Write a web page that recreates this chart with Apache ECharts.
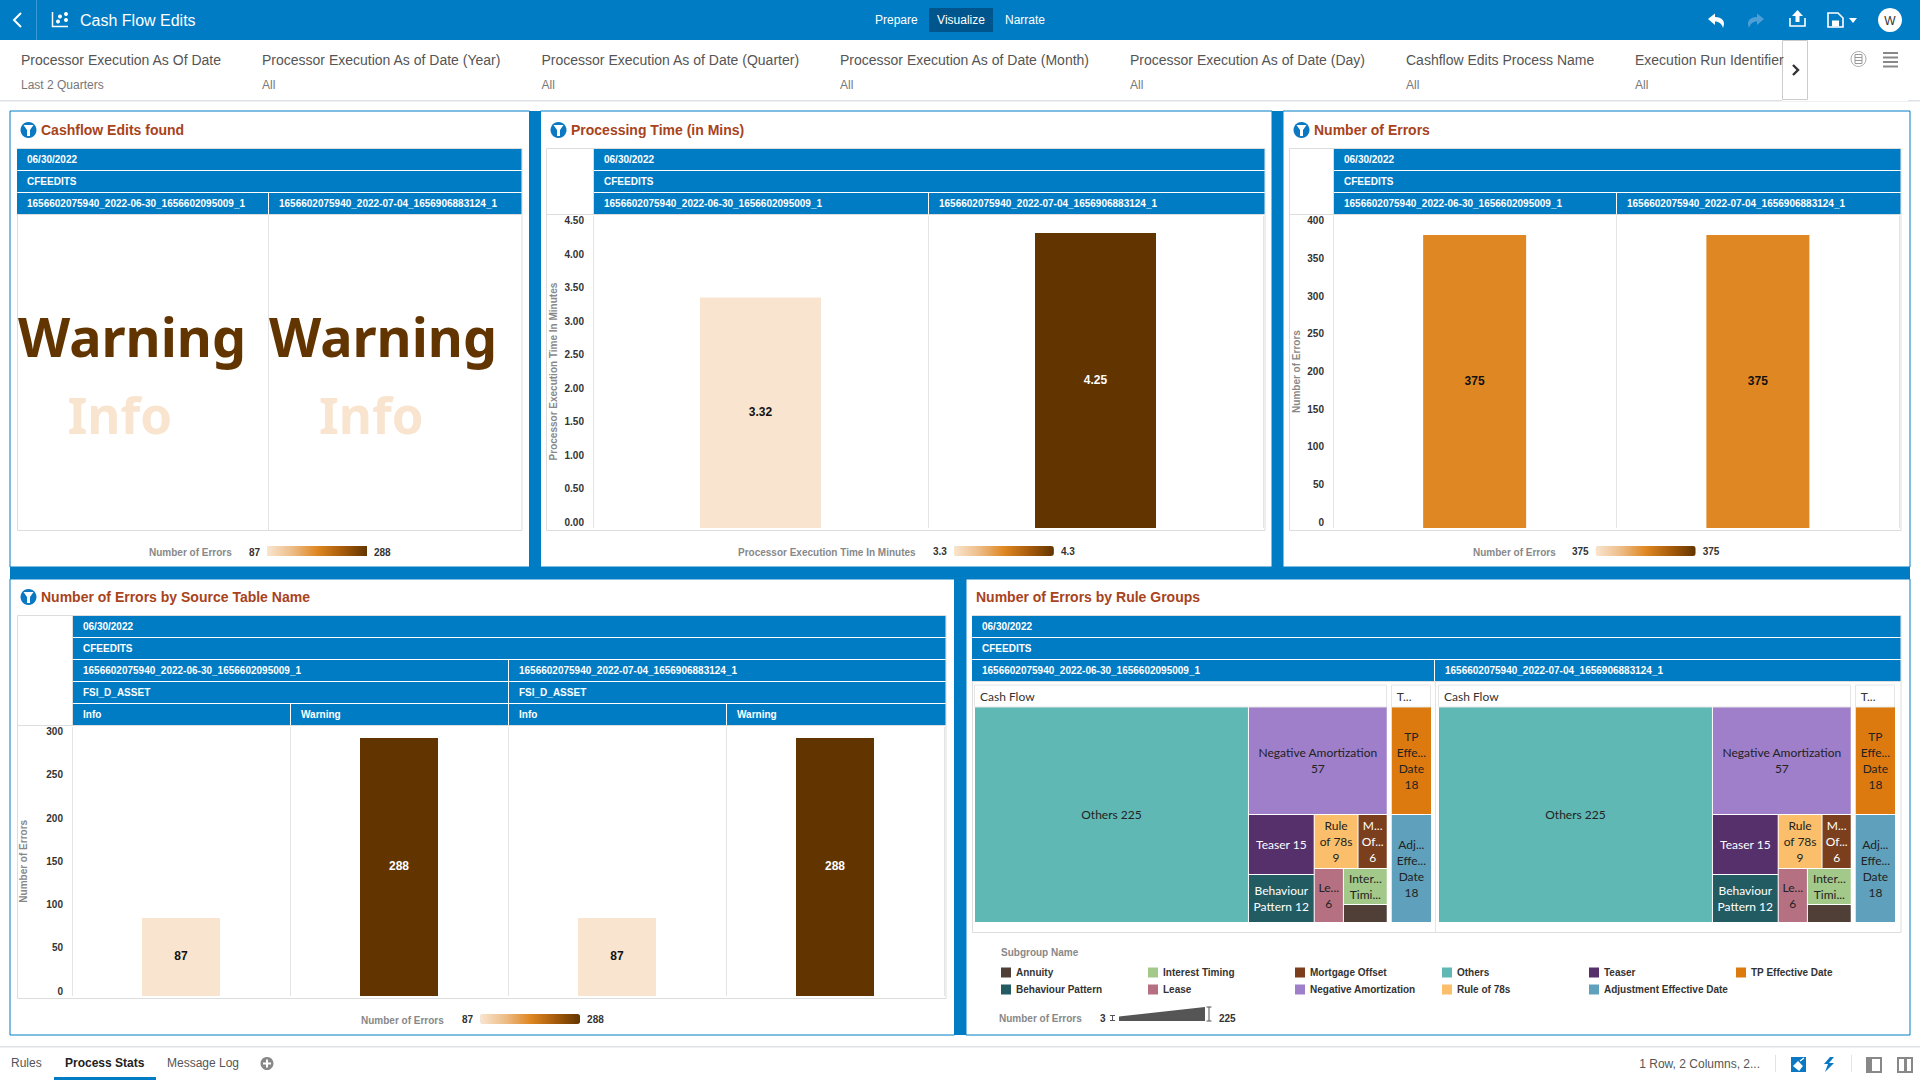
<!DOCTYPE html>
<html><head><meta charset="utf-8"><title>Cash Flow Edits</title>
<script src="https://cdn.jsdelivr.net/npm/echarts@6/dist/echarts.min.js"></script>
<style>html,body{margin:0;padding:0;background:#fff;overflow:hidden}#c{width:1920px;height:1080px}</style>
</head><body><div id="c"></div><script>
// ---------- data ----------
const runIds = ['1656602075940_2022-06-30_1656602095009_1', '1656602075940_2022-07-04_1656906883124_1'];
const dateLabel = '06/30/2022';
const batchLabel = 'CFEEDITS';
const sourceTable = 'FSI_D_ASSET';
const severities = ['Info', 'Warning'];
const tagWords = ['Warning', 'Info'];
const processingMinutes = [3.32, 4.25];
const errorTotals = [375, 375];
const errorsBySeverity = [87, 288, 87, 288];
const minuteTicks = { max: 4.5, step: 0.5 };
const totalTicks = { max: 400, step: 50 };
const severityTicks = { max: 300, step: 50 };
const filterNames = ['Processor Execution As Of Date', 'Processor Execution As of Date (Year)', 'Processor Execution As of Date (Quarter)', 'Processor Execution As of Date (Month)', 'Processor Execution As of Date (Day)', 'Cashflow Edits Process Name', 'Execution Run Identifier'];
const filterValues = ['Last 2 Quarters', 'All', 'All', 'All', 'All', 'All', 'All'];
const tabs = ['Rules', 'Process Stats', 'Message Log'];
const cashFlowNames = ['Others', 'Negative Amortization', 'Teaser', 'Behaviour Pattern', 'Rule of 78s', 'Interest Timing', 'Lease', 'Mortgage Offset', 'Annuity'];
const cashFlowValues = [225, 57, 15, 12, 9, 6, 6, 6, 3];
const cashFlowLabels = ['Others 225', 'Negative Amortization\n57', 'Teaser 15', 'Behaviour\nPattern 12', 'Rule\nof 78s\n9', 'Inter...\nTimi...', 'Le...\n6', 'M...\nOf...\n6', ''];
const otherGroupNames = ['Adjustment Effective Date', 'TP Effective Date'];
const otherGroupValues = [18, 18];
const otherGroupLabels = ['Adj...\nEffe...\nDate\n18', 'TP\nEffe...\nDate\n18'];
const legendOrder = ['Annuity', 'Behaviour Pattern', 'Interest Timing', 'Lease', 'Mortgage Offset', 'Negative Amortization', 'Others', 'Rule of 78s', 'Teaser', 'Adjustment Effective Date', 'TP Effective Date'];

// ---------- styles ----------
const BLUE = '#007CC5', TITLE = '#A8431C', FONT = '"Liberation Sans"', GRID = '#E2E4E6';
const subgroupColor = {
  'Others': '#5FB8B4', 'Negative Amortization': '#9F7FCA', 'Teaser': '#56306B', 'Behaviour Pattern': '#235B63',
  'Rule of 78s': '#FBBF6B', 'Mortgage Offset': '#7B3F1D', 'Lease': '#B57082', 'Interest Timing': '#A2C88A',
  'Annuity': '#4F3F36', 'TP Effective Date': '#DD7A0F', 'Adjustment Effective Date': '#5FA0BC'
};
const whiteText = new Set(['Teaser', 'Behaviour Pattern', 'Mortgage Offset']);
const RAMP = ['#F9E5CF', '#EDBD88', '#DF8823', '#A85C0B', '#623500'];

// ---------- chrome helpers ----------
const G = [];
let pathCount = 0;
const R = (x, y, w, h, fill, stroke, lw, z) => G.push({ type: 'rect', silent: true, z: z || 0, shape: { x, y, width: w, height: h }, style: { fill: fill || 'none', stroke: stroke || 'none', lineWidth: lw || 0 } });
const T = (x, y, text, font, fill, align, z) => G.push({ type: 'text', silent: true, z: z || 1, style: { x, y, text, font, fill, textAlign: align || 'left', textVerticalAlign: 'middle' } });
const P = (d, fill, stroke, lw) => {
  const name = 'chromeIcon' + (pathCount++);
  echarts.graphic.registerShape(name, echarts.graphic.extendPath(d));
  G.push({ type: name, silent: true, z: 1, style: { fill: fill || 'none', stroke: stroke || 'none', lineWidth: lw || 0 } });
};
const C = (cx, cy, r, fill, stroke, lw) => G.push({ type: 'circle', silent: true, z: 1, shape: { cx, cy, r }, style: { fill: fill || 'none', stroke: stroke || 'none', lineWidth: lw || 0 } });
const f = (s, w) => (w ? 'bold ' : '') + s + 'px ' + FONT;

// top bar
R(0, 0, 1920, 40, BLUE);
R(36, 0, 1, 40, '#3A9AD5');
P('M21 13 L14 20 L21 27', null, '#fff', 2);
P('M52.5 12 V26.5 H68', null, '#fff', 1.5);
C(66, 14, 2, '#fff'); C(60, 16.5, 2, '#fff'); C(66, 20, 2, '#fff'); C(58, 21.5, 2, '#fff');
T(80, 20, 'Cash Flow Edits', f(16), '#fff');
T(875, 20, 'Prepare', f(12), '#fff');
R(929, 8, 64, 24, '#00558D'); T(961, 20, 'Visualize', f(12), '#fff', 'center');
T(1005, 20, 'Narrate', f(12), '#fff');
P('M1708 19 L1715 13.5 L1715 17 C1722 17 1726 21 1723 28 C1722 24 1719 21.5 1715 21.5 L1715 25 Z', '#fff');
P('M1764 19 L1757 13.5 L1757 17 C1750 17 1746 21 1749 28 C1750 24 1753 21.5 1757 21.5 L1757 25 Z', '#4D9FD6');
P('M1790 18 V26 H1805 V18', null, '#fff', 1.6);
P('M1797.5 10 L1803 16 L1799.5 16 L1799.5 22 L1795.5 22 L1795.5 16 L1792 16 Z', '#fff');
P('M1828 13 H1838 L1843 18 V27 H1828 Z', null, '#fff', 1.6);
R(1832, 20.5, 7, 6, '#fff');
P('M1849 18 H1857 L1853 23 Z', '#fff');
C(1890, 20, 12, '#fff');
T(1890, 20.5, 'W', f(12), '#333', 'center');

// filter bar
const filterX = [21, 262, 541.5, 840, 1130, 1406, 1635];
filterNames.forEach((n, i) => {
  T(filterX[i], 60, n, f(14), '#555');
  T(filterX[i], 85, filterValues[i], f(12), '#777');
});
R(0, 100, 1920, 1.5, '#DDE1E6');
R(1782, 40, 126, 61, '#fff');
R(1782.5, 40.5, 25, 59, '#fff', '#CCCCCC', 1);
P('M1793 65 L1798 70 L1793 75', null, '#333', 2.4);
C(1858.5, 59, 7.5, null, '#AAAAAA', 1);
P('M1855 54.5 H1862 V63.5 H1855 Z M1855 57.5 H1862 M1855 60.5 H1862', null, '#999', 1);
[52, 56.5, 61, 65.5].forEach(y => R(1883, y, 15, 2, '#888'));

// dashboard backdrop and panels
R(10, 111, 1900, 924, BLUE);
const panels = [[10, 111, 519.5, 456], [540.5, 111, 731.5, 456], [1283, 111, 627, 456], [10, 579, 944.5, 456], [966, 579, 944, 456]];
panels.forEach(p => R(p[0], p[1], p[2], p[3], '#fff', BLUE, 1));

const titleAt = (x, y, s, icon) => {
  if (icon) {
    C(x - 12.5, y, 8, '#0A78C2');
    P(`M${x - 17.5} ${y - 5} H${x - 7.5} L${x - 11} ${y} V${y + 6} H${x - 14} V${y} Z`, '#fff');
  }
  T(x, y, s, f(14, true), TITLE);
};
titleAt(41, 130, 'Cashflow Edits found', true);
titleAt(571, 130, 'Processing Time (in Mins)', true);
titleAt(1314, 130, 'Number of Errors', true);
titleAt(41, 597, 'Number of Errors by Source Table Name', true);
titleAt(976, 597, 'Number of Errors by Rule Groups', false);

// pivot tables
const table = (x0, axisX, x1, top, bodyEnd, rows, splits) => {
  R(x0 + 0.5, top - 0.5, x1 - x0, bodyEnd - top + 1, '#fff', '#DDDDDD', 1);
  rows.forEach((cells, i) => {
    const y = top + i * 22;
    cells.forEach((c, k) => {
      R(c[1], y, c[2] - c[1] - (k < cells.length - 1 ? 1 : 0), 21, BLUE);
      T(c[1] + 10, y + 10.5, c[0], f(10, true), '#fff');
    });
  });
  const bodyTop = top + rows.length * 22 - 1;
  R(x0, bodyTop, x1 - x0, 1, '#DDDDDD');
  if (axisX > x0) R(axisX - 1, top, 1, rows.length * 22, '#DDDDDD');
  (splits || []).forEach(sx => R(sx, bodyTop, 1, bodyEnd - bodyTop, GRID));
};
const twoRuns = (a, b, c) => [[[dateLabel, a, c]], [[batchLabel, a, c]], [[runIds[0], a, b], [runIds[1], b, c]]];
table(17, 17, 521.5, 149, 530, twoRuns(17, 269, 521.5), [268]);
table(546, 594, 1264.5, 149, 530, twoRuns(594, 929, 1264.5));
table(1289, 1334, 1900.5, 149, 530, twoRuns(1334, 1617, 1900.5));
table(17, 73, 945.5, 616, 998, [
  [[dateLabel, 73, 945.5]], [[batchLabel, 73, 945.5]],
  [[runIds[0], 73, 509], [runIds[1], 509, 945.5]],
  [[sourceTable, 73, 509], [sourceTable, 509, 945.5]],
  [[severities[0], 73, 291], [severities[1], 291, 509], [severities[0], 509, 727], [severities[1], 727, 945.5]]
]);
table(972, 972, 1900.5, 616, 932, twoRuns(972, 1435, 1900.5), [1435]);

// tag cloud
[[18, 67.5], [269, 319]].forEach(xs => {
  T(xs[0], 336, tagWords[0], 'bold 54px "Noto Sans"', '#623500');
  T(xs[1], 414, tagWords[1], 'bold 51px "Noto Sans"', '#F9E5CF');
});

// legend captions
T(149, 552, 'Number of Errors', f(10, true), '#888');
T(249, 552, String(errorsBySeverity[0]), f(10, true), '#333');
G.push({ type: 'rect', silent: true, z: 1, shape: { x: 267, y: 546, width: 100, height: 10 }, style: { fill: { type: 'linear', x: 0, y: 0, x2: 1, y2: 0, colorStops: RAMP.map((c, i) => ({ offset: i / 4, color: c })) } } });
T(374, 552, String(errorsBySeverity[1]), f(10, true), '#333');
T(738, 552, 'Processor Execution Time In Minutes', f(10, true), '#888');
T(1473, 552, 'Number of Errors', f(10, true), '#888');
T(361, 1020, 'Number of Errors', f(10, true), '#888');

// subgroup legend
T(1001, 952.5, 'Subgroup Name', f(10, true), '#888');
const legendX = [1001, 1148, 1295, 1442, 1589, 1736];
legendOrder.forEach((n, i) => {
  const col = n === 'Adjustment Effective Date' ? 4 : n === 'TP Effective Date' ? 5 : Math.floor(i / 2);
  const row = n === 'Adjustment Effective Date' ? 1 : n === 'TP Effective Date' ? 0 : i % 2;
  const y = row ? 989.5 : 972.5;
  R(legendX[col], y - 5, 10, 10, subgroupColor[n]);
  T(legendX[col] + 15, y, n, f(10, true), '#333');
});
// size legend
T(999, 1018, 'Number of Errors', f(10, true), '#888');
T(1100, 1018.5, '3', f(10, true), '#333');
P('M1110 1015.5 H1115 M1112.5 1015.5 V1020.5 M1110 1020.5 H1115', null, '#555', 1);
P('M1119 1016.5 L1205 1007 V1021 H1119 Z', '#555');
P('M1206.5 1007 H1211.5 M1209 1007 V1021 M1206.5 1021 H1211.5', null, '#555', 1);
T(1219, 1018.5, '225', f(10, true), '#333');

// footer
R(0, 1046, 1920, 1.5, '#DDE1E6');
const tabX = [11, 65, 167];
tabs.forEach((s, i) => T(tabX[i], 1063, s, f(12, i === 1), i === 1 ? '#222' : '#555'));
R(54, 1077, 102, 3, BLUE);
C(267, 1063.5, 6.5, '#888');
P('M263 1063.5 H271 M267 1059.5 V1067.5', null, '#fff', 2);
T(1760, 1064, '1 Row, 2 Columns, 2...', f(12), '#555', 'right');
R(1775, 1055, 1, 17, '#E0E4E8');
R(1791, 1057, 15, 15, '#0A78C2');
P('M1794 1066 L1798 1062 L1802 1066 L1799 1070 Z M1800 1061 L1804 1058', '#fff', '#fff', 1.4);
P('M1830 1057 L1824 1064 H1828 L1825 1072 L1834 1063 H1829 L1834 1057 Z', '#0A78C2');
R(1851, 1055, 1, 17, '#E0E4E8');
R(1866, 1057, 16, 16, '#888');
R(1872, 1059, 8, 12, '#fff');
R(1897, 1057, 16, 16, '#888');
R(1899, 1059, 12, 12, '#fff');
R(1904, 1059, 3, 12, '#888');

// ---------- charts ----------
const hiddenX = (gridIndex, cats) => ({
  type: 'category', gridIndex, data: cats,
  axisLine: { show: false }, axisTick: { show: false }, axisLabel: { show: false },
  splitLine: { show: true, interval: 0, lineStyle: { color: GRID, width: 1 } }
});
const ticksAxis = (gridIndex, ticks, fmt, name, gap) => ({
  type: 'value', gridIndex, min: 0, max: ticks.max, interval: ticks.step,
  axisLine: { show: false }, axisTick: { show: false }, splitLine: { show: false },
  axisLabel: { margin: 10, formatter: fmt, color: '#333', fontFamily: FONT, fontWeight: 'bold', fontSize: 10 },
  name, nameLocation: 'middle', nameGap: gap, nameRotate: 90,
  nameTextStyle: { color: '#888', fontFamily: FONT, fontWeight: 'bold', fontSize: 10 }
});
const barSeries = (name, idx, values, width, fmt, darkFrom) => ({
  type: 'bar', name, xAxisIndex: idx, yAxisIndex: idx, barWidth: width, z: 5,
  data: values.map(v => ({ value: v, label: { color: v >= darkFrom ? '#fff' : '#111' } })),
  label: { show: true, position: 'inside', offset: [0, -1], formatter: fmt, fontFamily: FONT, fontWeight: 'bold', fontSize: 12 }
});
const scale = (idx, min, max, left, top, lo, hi) => ({
  type: 'continuous', seriesIndex: idx, min, max, calculable: false, realtime: false, hoverLink: false,
  orient: 'horizontal', left, top, itemWidth: 10, itemHeight: 100, text: [hi, lo], textGap: 7, padding: 0,
  textStyle: { color: '#333', fontFamily: FONT, fontWeight: 'bold', fontSize: 10 },
  inRange: { color: RAMP }
});
const treeNodes = (names, values, labels) => names.map((n, i) => ({
  name: n, value: values[i],
  itemStyle: { color: subgroupColor[n] },
  label: { show: !!labels[i], formatter: labels[i], color: whiteText.has(n) ? '#fff' : '#222' }
}));
const sumOf = a => a.reduce((s, v) => s + v, 0);
const treemap = (left, name) => ({
  type: 'treemap', name, left, top: 685, width: 456, height: 237,
  roam: false, nodeClick: false, breadcrumb: { show: false }, sort: 'desc', squareRatio: 1,
  label: { show: true, position: 'inside', overflow: 'none', padding: [-20, 0, -20, 0], fontFamily: 'Lato', fontSize: 12, lineHeight: 16 },
  upperLabel: { show: false },
  levels: [
    { itemStyle: { gapWidth: 5, borderWidth: 0 }, upperLabel: { show: false } },
    { itemStyle: { color: '#fff', borderColor: '#fff', borderWidth: 0, gapWidth: 1 },
      upperLabel: { show: true, height: 22, padding: [0, 0, 0, 5], color: '#333', fontFamily: 'Lato', fontSize: 12, overflow: 'none' } },
    { itemStyle: { borderWidth: 0 } }
  ],
  data: [
    { name: 'Cash Flow', value: sumOf(cashFlowValues), children: treeNodes(cashFlowNames, cashFlowValues, cashFlowLabels) },
    { name: 'T...', value: sumOf(otherGroupValues), children: treeNodes(otherGroupNames, otherGroupValues, otherGroupLabels) }
  ]
});
// frames of the treemap group headers
[[975, 1387], [1392, 1431], [1439, 1851], [1856, 1895]].forEach(a => R(a[0] - 0.5, 685, a[1] - a[0], 22, 'none', '#E6E6E6', 1, 100));

const option = {
  animation: false,
  grid: [
    { left: 593, width: 670, top: 215.7, height: 312.3 },
    { left: 1333, width: 566.5, top: 215.5, height: 312.5 },
    { left: 72, width: 872, top: 727.2, height: 268.8 },
    { left: 594, width: 1, top: 220.7, height: 301.7 },
    { left: 1334, width: 1, top: 220.7, height: 301.7 },
    { left: 73, width: 1, top: 731.6, height: 259.4 }
  ],
  xAxis: [
    hiddenX(0, runIds), hiddenX(1, runIds), hiddenX(2, [severities[0], severities[1], severities[0] + ' ', severities[1] + ' ']),
    { type: 'value', gridIndex: 3, show: false }, { type: 'value', gridIndex: 4, show: false }, { type: 'value', gridIndex: 5, show: false }
  ],
  yAxis: [
    { type: 'value', gridIndex: 0, show: false, min: 0, max: minuteTicks.max, splitLine: { show: false } },
    { type: 'value', gridIndex: 1, show: false, min: 0, max: totalTicks.max, splitLine: { show: false } },
    { type: 'value', gridIndex: 2, show: false, min: 0, max: severityTicks.max, splitLine: { show: false } },
    ticksAxis(3, minuteTicks, v => v.toFixed(2), 'Processor Execution Time In Minutes', 36),
    ticksAxis(4, totalTicks, v => String(v), 'Number of Errors', 33),
    ticksAxis(5, severityTicks, v => String(v), 'Number of Errors', 45)
  ],
  visualMap: [
    scale(0, processingMinutes[0], processingMinutes[1], 933, 546, '3.3', '4.3'),
    scale(1, errorTotals[0] - 1, errorTotals[1] + 1, 1572, 546, String(errorTotals[0]), String(errorTotals[1])),
    scale(2, errorsBySeverity[0], errorsBySeverity[1], 462, 1014, String(errorsBySeverity[0]), String(errorsBySeverity[1]))
  ],
  series: [
    barSeries('Processor Execution Time In Minutes', 0, processingMinutes, 121, p => p.value.toFixed(2), 4),
    barSeries('Number of Errors', 1, errorTotals, 103, p => String(p.value), 1000),
    barSeries('Number of Errors', 2, errorsBySeverity, 78, p => String(p.value), 200),
    treemap(975, 'Number of Errors by Rule Groups 1'),
    treemap(1439, 'Number of Errors by Rule Groups 2')
  ],
  graphic: { elements: G }
};
const chart = echarts.init(document.getElementById('c'), null, { renderer: 'svg', width: 1920, height: 1080 });
chart.setOption(option);
</script></body></html>
